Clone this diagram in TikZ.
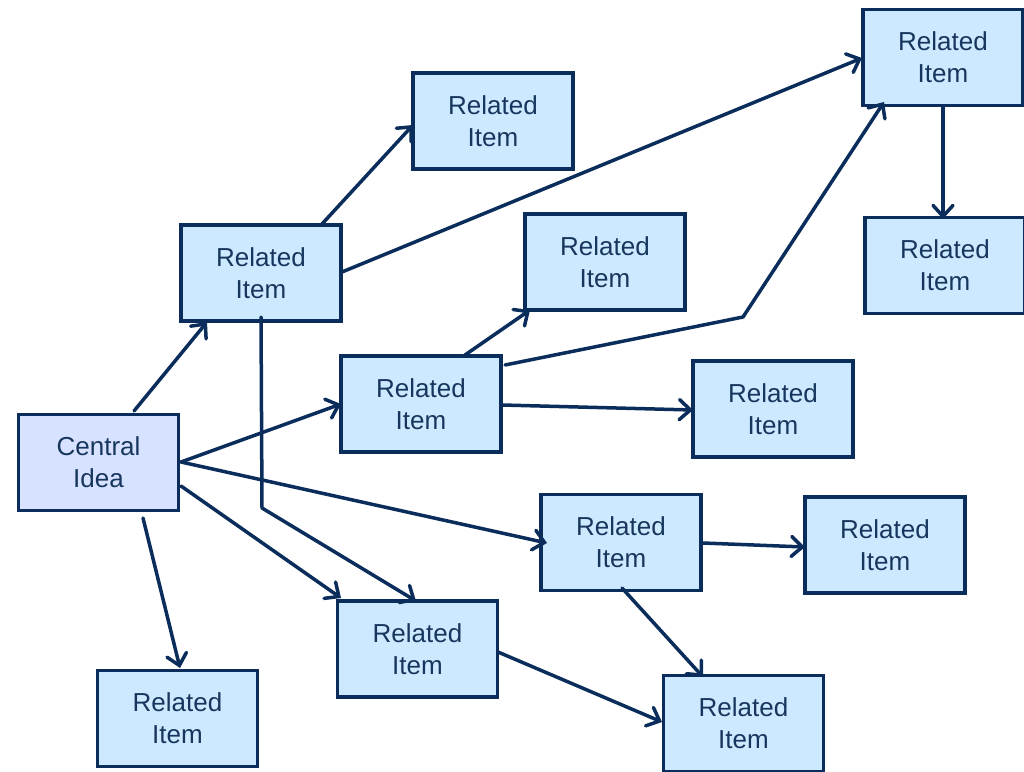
\documentclass[tikz,border=0pt]{standalone}
\usepackage{fontspec}
\setmainfont{Liberation Sans}
\usetikzlibrary{arrows.meta,calc}
\definecolor{edgeblue}{HTML}{0B2D5B}
\definecolor{textblue}{HTML}{17365D}
\definecolor{itemfill}{HTML}{CCE9FF}
\definecolor{ideafill}{HTML}{D6E2FF}
\tikzset{
  itembox/.style={draw=edgeblue, line width=3.5pt, fill=itemfill, text=textblue,
    minimum width=160pt, minimum height=96pt, inner sep=0pt, align=center,
    font=\fontsize{26}{32}\selectfont},
  ideabox/.style={itembox, fill=ideafill},
  link/.style={draw=edgeblue, line width=3.5pt, line cap=round, line join=round,
    -{Straight Barb[length=11pt,width=20pt,line cap=round]}},
}
\begin{document}
\begin{tikzpicture}[x=1pt,y=-1pt]
\useasboundingbox (0,0) rectangle (1024,771);
% boxes
\node[ideabox] (C) at (98.5,462.5) {Central\\Idea};
\node[itembox] (R1) at (493,121) {Related\\Item};
\node[itembox] (R2) at (261,273) {Related\\Item};
\node[itembox] (R3) at (943,57.5) {Related\\Item};
\node[itembox] (R4) at (945,265.5) {Related\\Item};
\node[itembox] (R5) at (605,262) {Related\\Item};
\node[itembox] (R6) at (421,404) {Related\\Item};
\node[itembox] (R7) at (773,409) {Related\\Item};
\node[itembox] (R8) at (621,542.5) {Related\\Item};
\node[itembox] (R9) at (885,545) {Related\\Item};
\node[itembox] (R10) at (417.5,649) {Related\\Item};
\node[itembox] (R11) at (177.5,718.5) {Related\\Item};
\node[itembox] (R12) at (743.5,723.5) {Related\\Item};
% bend points
\coordinate (K1) at (262,508);
\coordinate (K2) at (743,317);
% connectors
\draw[link] ($(C)+(35.5,-51.5)$) -- ($(R2)+(-54,49)$);
\draw[link] ($(R2)+(61,-49)$) -- ($(R1)+(-80,4)$);
\draw[link] ($(R2)+(81,-1)$) -- ($(R3)+(-81,0.5)$);
\draw[link] ($(R2)+(0,44)$) -- (K1) -- ($(R10)+(-1.5,-48)$);
\draw[link] ($(C)+(82.5,-0.5)$) -- ($(R6)+(-80,0)$);
\draw[link] ($(R6)+(44,-49)$) -- ($(R5)+(-75,48)$);
\draw[link] ($(R6)+(84,-39)$) -- (K2) -- ($(R3)+(-59,44.5)$);
\draw[link] ($(R6)+(81,1)$) -- ($(R7)+(-80,1)$);
\draw[link] ($(C)+(82.5,-0.5)$) -- ($(R8)+(-74,0.5)$);
\draw[link] ($(C)+(82.5,23.5)$) -- ($(R10)+(-76.5,-51)$);
\draw[link] ($(C)+(44.5,55.5)$) -- ($(R11)+(2.5,-50.5)$);
\draw[link] ($(R8)+(82,0.5)$) -- ($(R9)+(-80,2)$);
\draw[link] ($(R8)+(1,45.5)$) -- ($(R12)+(-40.5,-46.5)$);
\draw[link] ($(R10)+(80.5,3)$) -- ($(R12)+(-81.5,-1.5)$);
\draw[link] ($(R3)+(0,48.5)$) -- ($(R4)+(-2,-46.5)$);
\end{tikzpicture}
\end{document}
